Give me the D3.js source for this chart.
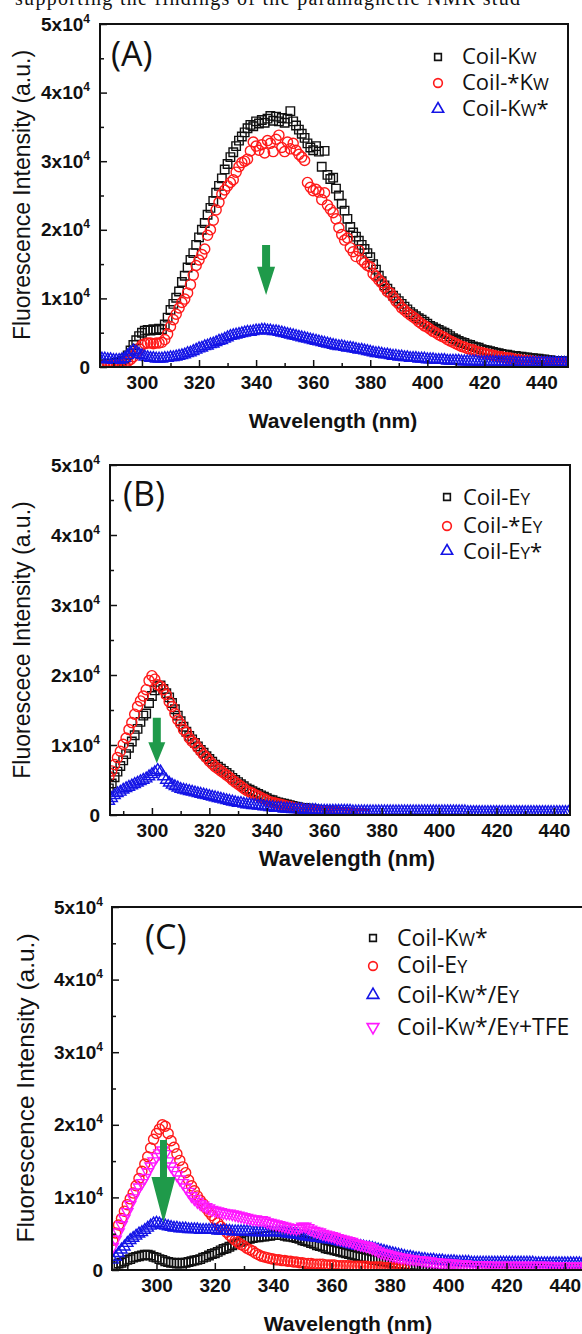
<!DOCTYPE html>
<html><head><meta charset="utf-8">
<script src="https://cdn.jsdelivr.net/npm/d3@7/dist/d3.min.js"></script>
<style>body{margin:0;background:#fff}svg{display:block}</style>
</head><body>
<svg id="chart" width="582" height="1334"></svg>
<script>
// ---------- DATA (intensity in units of 10^3, 1 nm steps starting at 285 nm) ----------
const startWL = 285;
const xMajorTicks = [300, 320, 340, 360, 380, 400, 420, 440];
const yMajorTicks = [0, 10, 20, 30, 40, 50];
const topLine = "supporting the findings of the paramagnetic NMR stud";

// Panel A
const coilKW_A = [
0.3,0.3,0.4,0.4,0.5,0.5,0.6,0.7,0.9,1.2,
1.7,2.4,3.2,3.9,4.5,5.0,5.3,5.4,5.3,5.5,
5.4,5.6,5.5,6.2,7.2,8.3,9.2,10.1,11.0,12.4,
13.3,14.5,15.6,16.6,17.8,18.9,20.0,21.0,22.2,23.2,
24.2,25.4,26.4,27.5,28.8,29.6,30.6,31.3,32.2,33.0,
33.6,34.2,34.8,35.3,35.1,35.8,35.5,36.0,35.6,36.2,
36.6,35.9,36.5,35.8,36.3,35.6,36.2,37.3,35.8,35.2,
34.6,34.0,33.4,32.6,32.0,31.6,32.2,31.4,29.2,31.5,
28.0,27.4,27.6,26.0,25.0,23.8,22.8,21.6,20.4,19.6,
19.0,18.4,17.8,17.2,16.6,16.0,15.0,14.2,13.3,12.5,
11.9,11.4,10.9,10.4,10.0,9.6,9.2,8.8,8.4,8.0,
7.7,7.4,7.1,6.9,6.6,6.3,6.0,5.8,5.6,5.4,
5.2,5.0,4.8,4.5,4.2,4.0,3.8,3.6,3.5,3.3,
3.2,3.0,2.9,2.8,2.6,2.5,2.4,2.3,2.2,2.1,
2.0,1.9,1.8,1.8,1.7,1.6,1.6,1.5,1.5,1.4,
1.4,1.3,1.3,1.2,1.2,1.1,1.1,1.0,1.0,0.9,
0.9,0.9,0.8,0.8,0.8,0.7];
const coilStarKW_A = [
0.1,0.1,0.1,0.2,0.2,0.2,0.3,0.3,0.4,0.6,
0.8,1.1,1.5,2.1,2.7,3.2,3.4,3.5,3.5,3.4,
3.5,3.5,3.6,4.0,4.8,5.9,6.9,7.7,8.6,9.4,
9.9,10.8,12.0,13.4,14.8,15.6,16.4,17.2,19.2,20.0,
21.4,22.9,24.0,25.2,25.8,26.4,26.9,27.3,28.4,29.2,
29.8,30.0,30.3,31.5,32.8,32.2,31.6,32.4,31.2,33.0,
32.6,31.4,33.2,33.8,32.0,31.4,32.8,31.8,32.6,31.6,
31.0,30.6,30.1,26.9,26.2,25.7,25.9,25.5,24.4,25.4,
23.6,23.0,22.5,21.6,20.3,19.3,18.5,18.8,17.4,16.8,
16.1,17.0,15.6,15.2,14.8,14.6,13.6,13.2,12.7,12.3,
11.6,11.0,10.8,10.2,9.6,9.2,8.6,8.3,7.9,7.6,
7.3,7.0,6.6,6.3,6.0,5.8,5.5,5.2,5.0,4.7,
4.5,4.3,4.0,3.8,3.6,3.4,3.2,3.0,2.9,2.7,
2.6,2.5,2.3,2.2,2.1,2.0,1.9,1.8,1.7,1.6,
1.5,1.5,1.4,1.3,1.3,1.2,1.1,1.1,1.0,1.0,
0.9,0.9,0.8,0.8,0.8,0.7,0.7,0.7,0.6,0.6,
0.6,0.5,0.5,0.5,0.5,0.4];
const coilKWStar_A = [
1.3,1.2,1.2,1.1,1.1,1.0,1.0,1.0,1.1,1.3,
1.7,2.1,2.4,2.2,1.9,1.7,1.5,1.4,1.3,1.3,
1.2,1.2,1.2,1.3,1.3,1.4,1.4,1.5,1.6,1.7,
1.8,2.0,2.1,2.3,2.5,2.7,2.8,3.0,3.1,3.3,
3.4,3.6,3.8,3.9,4.1,4.3,4.5,4.6,4.7,4.8,
4.9,5.0,5.1,5.1,5.2,5.3,5.3,5.4,5.4,5.3,
5.3,5.2,5.2,5.1,5.0,4.9,4.8,4.7,4.6,4.5,
4.4,4.3,4.2,4.1,4.0,3.9,3.8,3.7,3.6,3.5,
3.4,3.3,3.2,3.1,3.0,3.0,2.9,2.8,2.8,2.7,
2.6,2.5,2.5,2.4,2.3,2.2,2.1,2.0,2.0,1.9,
1.8,1.8,1.7,1.6,1.6,1.5,1.5,1.4,1.4,1.3,
1.3,1.3,1.2,1.2,1.2,1.1,1.1,1.1,1.0,1.0,
1.0,1.0,0.9,0.9,0.9,0.9,0.9,0.8,0.8,0.8,
0.8,0.8,0.8,0.7,0.7,0.7,0.7,0.7,0.7,0.7,
0.7,0.7,0.7,0.7,0.7,0.7,0.6,0.6,0.6,0.6,
0.6,0.6,0.6,0.6,0.6,0.6,0.6,0.6,0.6,0.6,
0.6,0.6,0.6,0.6,0.6,0.6];

// Panel B
const coilEY_B = [
3.8,4.5,5.4,6.2,7.0,7.8,8.7,9.6,10.5,11.4,
12.3,13.3,14.2,14.5,16.0,17.0,17.8,18.4,18.5,18.0,
17.4,16.8,16.0,15.1,14.2,13.4,12.6,11.9,11.3,10.8,
10.3,9.8,9.3,8.9,8.4,8.0,7.6,7.2,6.9,6.6,
6.3,6.0,5.7,5.3,5.0,4.7,4.4,4.1,3.8,3.6,
3.4,3.2,3.0,2.8,2.6,2.4,2.2,2.1,1.9,1.8,
1.7,1.6,1.5,1.4,1.3,1.2,1.1,1.0,1.0,0.9,
0.9,0.8,0.8,0.7,0.7,0.6,0.6,0.5,0.5,0.5,
0.4,0.4,0.4,0.3,0.3,0.3,0.3,0.3,0.2,0.2];
const coilStarEY_B = [
5.5,6.3,7.2,8.2,9.1,10.1,11.0,12.2,13.2,14.4,
15.5,16.3,17.0,17.9,19.2,19.9,19.4,18.6,18.4,17.9,
17.2,16.2,15.5,14.5,13.6,13.0,12.2,11.8,11.0,10.5,
10.2,9.6,9.1,8.6,8.2,7.7,7.3,6.9,6.6,6.3,
6.0,5.7,5.4,5.0,4.7,4.4,4.1,3.8,3.5,3.3,
3.1,2.9,2.7,2.5,2.3,2.1,1.9,1.8,1.7,1.6,
1.5,1.4,1.3,1.2,1.1,1.0,0.9,0.9,0.8,0.8,
0.7,0.7,0.6,0.6,0.5,0.5,0.5,0.4,0.4,0.4,
0.4,0.3,0.3,0.3,0.3,0.3,0.2,0.2,0.2,0.2];
const coilEYStar_B = [
2.0,2.4,2.8,3.1,3.3,3.6,3.8,4.0,4.2,4.4,
4.6,4.8,5.0,5.2,5.5,5.8,6.1,6.4,6.2,5.5,
5.0,4.6,4.3,4.1,3.9,3.7,3.6,3.5,3.4,3.3,
3.2,3.1,3.0,2.9,2.8,2.7,2.6,2.5,2.4,2.3,
2.2,2.1,2.0,1.9,1.8,1.7,1.7,1.6,1.5,1.5,
1.4,1.4,1.3,1.3,1.2,1.2,1.1,1.1,1.0,1.0,
1.0,0.9,0.9,0.9,0.8,0.8,0.8,0.8,0.7,0.7,
0.7,0.7,0.7,0.6,0.6,0.6,0.6,0.6,0.6,0.6,
0.6,0.6,0.6,0.6,0.6,0.5,0.5,0.5,0.5,0.5,
0.5,0.5,0.5,0.5,0.5,0.5,0.5,0.5,0.5,0.5,
0.5,0.5,0.5,0.5,0.5,0.5,0.5,0.5,0.5,0.5,
0.5,0.5,0.5,0.5,0.5,0.5,0.5,0.5,0.5,0.5,
0.5,0.5,0.5,0.5,0.5,0.4,0.4,0.4,0.4,0.4,
0.4,0.4,0.4,0.4,0.4,0.4,0.4,0.4,0.4,0.4,
0.4,0.4,0.4,0.4,0.4,0.4,0.4,0.4,0.4,0.4,
0.4,0.4,0.4,0.4,0.4,0.4,0.4,0.4,0.4,0.4,
0.4];

// Panel C
const coilKWStar_C = [
0.5,0.7,0.9,1.0,1.2,1.4,1.5,1.7,1.8,1.9,
2.0,2.1,2.1,2.0,1.8,1.7,1.5,1.4,1.2,1.1,
1.0,1.0,0.9,0.9,1.0,1.0,1.1,1.2,1.3,1.4,
1.5,1.7,1.8,2.0,2.2,2.3,2.5,2.7,2.9,3.0,
3.2,3.4,3.6,3.8,3.9,4.1,4.2,4.3,4.4,4.5,
4.5,4.6,4.6,4.7,4.7,4.8,4.8,4.8,4.8,4.7,
4.6,4.6,4.5,4.4,4.3,4.1,4.0,3.9,3.7,3.6,
3.4,3.3,3.2,3.0,2.9,2.8,2.7,2.6,2.5,2.4,
2.3,2.2,2.1,2.0,1.9,1.8,1.7,1.6,1.5,1.4,
1.4,1.3,1.2,1.2,1.1,1.0,1.0,0.9,0.9,0.8,
0.8,0.7,0.7,0.7,0.6,0.6,0.6,0.5,0.5,0.5,
0.5,0.4,0.4,0.4,0.4,0.4,0.3,0.3,0.3,0.3,
0.3,0.3,0.3,0.3,0.3,0.3,0.3,0.3,0.3,0.3,
0.3,0.3,0.3,0.3,0.3,0.3,0.3,0.3,0.3,0.3,
0.3,0.3,0.3,0.3,0.3,0.2,0.2,0.2,0.2,0.2,
0.2,0.2,0.2,0.2,0.2,0.2,0.2,0.2,0.2,0.2,
0.2,0.2,0.2,0.2,0.2,0.2];
const coilEY_C = [
4.1,5.1,6.2,7.1,8.1,9.0,9.8,10.6,11.6,12.6,
13.6,14.6,15.6,16.8,18.0,18.8,19.4,20.0,19.8,18.8,
17.8,16.9,16.0,15.1,14.2,13.4,12.4,11.6,10.9,10.2,
9.6,9.1,8.5,8.0,7.5,7.0,6.5,6.0,5.6,5.2,
4.8,4.4,4.1,3.8,3.5,3.3,3.0,2.8,2.6,2.3,
2.1,1.9,1.8,1.7,1.6,1.5,1.4,1.4,1.3,1.3,
1.2,1.2,1.1,1.1,1.0,1.0,0.9,0.9,0.9,0.8,
0.8,0.8,0.8,0.7,0.7,0.7,0.7,0.6,0.6,0.6,
0.6,0.6,0.5,0.5,0.5,0.5,0.5,0.5,0.4,0.4,
0.4,0.4,0.4,0.3,0.3,0.3,0.3,0.3,0.3,0.2,
0.2];
const coilKWStarEY_C = [
1.4,1.8,2.3,2.8,3.2,3.7,4.1,4.4,4.7,5.0,
5.2,5.5,5.8,6.1,6.4,6.5,6.4,6.2,6.1,6.0,
5.9,5.8,5.8,5.7,5.7,5.7,5.6,5.6,5.6,5.6,
5.5,5.5,5.5,5.5,5.5,5.5,5.4,5.4,5.4,5.4,
5.4,5.3,5.3,5.3,5.3,5.3,5.3,5.3,5.2,5.2,
5.2,5.2,5.2,5.2,5.2,5.2,5.2,5.2,5.1,5.1,
5.0,5.0,4.9,4.9,4.8,4.7,4.6,4.6,4.5,4.5,
4.4,4.4,4.3,4.3,4.2,4.2,4.1,4.0,3.9,3.8,
3.7,3.6,3.5,3.4,3.3,3.3,3.2,3.1,3.1,3.0,
2.9,2.8,2.7,2.6,2.5,2.4,2.3,2.2,2.1,2.0,
1.9,1.8,1.8,1.7,1.6,1.6,1.5,1.5,1.4,1.4,
1.4,1.3,1.3,1.3,1.2,1.2,1.2,1.2,1.1,1.1,
1.1,1.1,1.1,1.0,1.0,1.0,1.0,1.0,1.0,1.0,
1.0,1.0,1.0,1.0,1.0,1.0,1.0,1.0,1.0,1.0,
1.0,1.0,1.0,1.0,1.0,0.9,0.9,0.9,0.9,0.9,
0.9,0.9,0.9,0.9,0.9,0.9,0.9,0.9,0.9,0.9,
0.9,0.9,0.9,0.9,0.9,0.9];
const coilKWStarEYTFE_C = [
3.2,4.2,5.2,6.2,7.1,8.0,9.0,9.9,10.7,11.4,
12.0,12.7,13.5,14.3,15.0,15.6,16.1,16.5,16.0,15.0,
14.3,13.7,13.1,12.5,12.0,11.4,10.8,10.2,9.8,9.4,
9.1,8.9,8.7,8.5,8.3,8.2,8.1,8.0,7.9,7.8,
7.8,7.7,7.6,7.5,7.4,7.3,7.2,7.1,7.0,7.0,
6.9,6.9,6.8,6.6,6.5,6.4,6.3,6.2,6.1,6.0,
5.9,5.8,5.8,5.7,5.8,6.0,6.0,5.8,5.6,5.4,
5.3,5.2,5.0,4.9,4.8,4.7,4.6,4.4,4.3,4.2,
4.1,4.0,3.9,3.7,3.6,3.5,3.4,3.3,3.2,3.0,
2.8,2.6,2.4,2.3,2.2,2.1,2.0,1.9,1.8,1.7,
1.7,1.6,1.5,1.5,1.4,1.4,1.3,1.3,1.2,1.2,
1.1,1.1,1.0,1.0,1.0,0.9,0.9,0.9,0.8,0.8,
0.8,0.8,0.7,0.7,0.7,0.7,0.7,0.7,0.7,0.6,
0.6,0.6,0.6,0.6,0.6,0.6,0.6,0.6,0.6,0.6,
0.6,0.6,0.6,0.6,0.6,0.6,0.6,0.6,0.6,0.6,
0.5,0.5,0.5,0.5,0.5,0.5,0.5,0.5,0.5,0.5,
0.5,0.5,0.5,0.5,0.5,0.5];

// Arrow annotations (wavelength, top / head-start / tip intensity in 10^3)
const arrowA = {wl: 343.5, top: 17.8, head: 14.6, tip: 10.5};
const arrowB = {wl: 301.7, top: 13.9, head: 10.4, tip: 7.4};
const arrowC = {wl: 302.4, top: 17.9, head: 12.8, tip: 6.5};

// ---------- STYLE / LAYOUT ----------
const SANS = "'Liberation Sans', Arial, sans-serif";
const LEG = "'Open Sans', 'Liberation Sans', sans-serif";
const BLACK = "#111", RED = "#ff1a1a", BLUE = "#1414e6", MAG = "#ff19ff", GREEN = "#1f9a4a";

const panels = [
  {tag: "(A)", tagPos: [111, 66], tagSize: 34,
   box: {l: 100, r: 568, t: 24, b: 367}, xDomain: [285.3, 449.3],
   yTitle: "Fluorescence Intensity (a.u.)", yTitlePos: [30, 195], yTitleSize: 23,
   xTitlePos: [333, 428], xTitleSize: 21, yPad: 10,
   series: [
     {label: [["Coil-K"], ["W", 1]], values: coilKW_A, shape: "square", color: BLACK},
     {label: [["Coil-*K"], ["W", 1]], values: coilStarKW_A, shape: "circle", color: RED},
     {label: [["Coil-K"], ["W", 1], ["*"]], values: coilKWStar_A, shape: "triangle", color: BLUE}
   ],
   legend: {mx: 438, my: [57, 83, 109], tx: 462, ty: [64, 90, 116], size: 22, msize: [45, 60, 55]},
   arrow: arrowA, arrowW: [8, 18]},
  {tag: "(B)", tagPos: [123, 506], tagSize: 34,
   box: {l: 110, r: 570, t: 465, b: 815}, xDomain: [285.4, 445.6],
   yTitle: "Fluorescece Intensity (a.u.)", yTitlePos: [30, 640], yTitleSize: 23,
   xTitlePos: [347, 866], xTitleSize: 22, yPad: 10,
   series: [
     {label: [["Coil-E"], ["Y", 1]], values: coilEY_B, shape: "square", color: BLACK},
     {label: [["Coil-*E"], ["Y", 1]], values: coilStarEY_B, shape: "circle", color: RED},
     {label: [["Coil-E"], ["Y", 1], ["*"]], values: coilEYStar_B, shape: "triangle", color: BLUE}
   ],
   legend: {mx: 447, my: [497, 526, 551], tx: 463, ty: [505, 533, 559], size: 22, msize: [45, 60, 55]},
   arrow: arrowB, arrowW: [8, 17]},
  {tag: "(C)", tagPos: [145, 949], tagSize: 34,
   box: {l: 112, r: 594, t: 907, b: 1270}, xDomain: [284.75, 450],
   yTitle: "Fluorescence Intensity (a.u.)", yTitlePos: [34, 1088], yTitleSize: 24.5,
   xTitlePos: [348, 1331], xTitleSize: 21, yPad: 9,
   series: [
     {label: [["Coil-K"], ["W", 1], ["*"]], values: coilKWStar_C, shape: "square", color: BLACK},
     {label: [["Coil-E"], ["Y", 1]], values: coilEY_C, shape: "circle", color: RED},
     {label: [["Coil-K"], ["W", 1], ["*/E"], ["Y", 1]], values: coilKWStarEY_C, shape: "triangle", color: BLUE},
     {label: [["Coil-K"], ["W", 1], ["*/E"], ["Y", 1], ["+TFE"]], values: coilKWStarEYTFE_C, shape: "triangleDown", color: MAG}
   ],
   legend: {mx: 373, my: [938, 966, 995, 1027], tx: 397, ty: [946, 973, 1003, 1035], size: 23, msize: [45, 60, 60, 60]},
   arrow: arrowC, arrowW: [7, 24]}
];

const markerSize = {square: 72, circle: 80, triangle: 55, triangleDown: 55};

function symbolPath(shape, size) {
  const type = shape === "square" ? d3.symbolSquare : shape === "circle" ? d3.symbolCircle : d3.symbolTriangle;
  return d3.symbol().type(type).size(size)();
}

const svg = d3.select("#chart");
svg.append("rect").attr("width", 582).attr("height", 1334).attr("fill", "#fff");

// top running text (cut-off line of the page above the figure)
svg.append("text").attr("x", 15).attr("y", 5)
  .attr("font-family", "'Liberation Serif', 'Times New Roman', serif")
  .attr("font-size", 20).attr("textLength", 505).attr("lengthAdjust", "spacing")
  .attr("fill", "#111").text(topLine);

panels.forEach((p, pi) => {
  const x = d3.scaleLinear().domain(p.xDomain).range([p.box.l, p.box.r]);
  const y = d3.scaleLinear().domain([0, 50]).range([p.box.b, p.box.t]);
  const g = svg.append("g");

  const clipId = "clip" + pi;
  svg.append("clipPath").attr("id", clipId).append("rect")
    .attr("x", p.box.l).attr("y", p.box.t)
    .attr("width", p.box.r - p.box.l).attr("height", p.box.b - p.box.t);

  // series markers
  const plot = g.append("g").attr("clip-path", `url(#${clipId})`);
  p.series.forEach(s => {
    const d = symbolPath(s.shape, markerSize[s.shape]);
    plot.append("g").selectAll("path")
      .data(s.values.map((v, i) => [startWL + i, v]))
      .join("path")
      .attr("d", d)
      .attr("transform", v => `translate(${x(v[0])},${y(v[1])})` + (s.shape === "triangleDown" ? " rotate(180)" : ""))
      .attr("fill", "none").attr("stroke", s.color).attr("stroke-width", 1.4);
  });

  // arrow
  const a = p.arrow, cx = x(a.wl), sw = p.arrowW[0] / 2, hw = p.arrowW[1] / 2;
  const yt = y(a.top), yh = y(a.head), yp = y(a.tip);
  g.append("path")
    .attr("d", `M${cx - sw},${yt}L${cx + sw},${yt}L${cx + sw},${yh}L${cx + hw},${yh}L${cx},${yp}L${cx - hw},${yh}L${cx - sw},${yh}Z`)
    .attr("fill", GREEN);

  // axes (major with labels, minor without)
  const xMinor = d3.range(290, 451, 20).filter(v => v > p.xDomain[0] && v < p.xDomain[1]);
  const yMinor = [5, 15, 25, 35, 45];
  const gx = g.append("g").attr("transform", `translate(0,${p.box.b})`)
    .call(d3.axisBottom(x).tickValues(xMajorTicks).tickSize(-7).tickSizeOuter(0).tickPadding(9).tickFormat(d3.format("d")));
  const gxm = g.append("g").attr("transform", `translate(0,${p.box.b})`)
    .call(d3.axisBottom(x).tickValues(xMinor).tickSize(-4).tickSizeOuter(0).tickFormat(""));
  const gy = g.append("g").attr("transform", `translate(${p.box.l},0)`)
    .call(d3.axisLeft(y).tickValues(yMajorTicks).tickSize(-7).tickSizeOuter(0).tickPadding(p.yPad));
  const gym = g.append("g").attr("transform", `translate(${p.box.l},0)`)
    .call(d3.axisLeft(y).tickValues(yMinor).tickSize(-4).tickSizeOuter(0).tickFormat(""));
  [gxm, gym].forEach(ax => ax.selectAll(".tick text").remove());
  g.selectAll(".domain").remove();
  g.selectAll(".tick line").attr("stroke", BLACK).attr("stroke-width", 1.5);
  [gx, gy].forEach(ax => ax.attr("font-family", SANS).attr("font-size", 19).attr("font-weight", "bold"));
  gx.selectAll(".tick text").attr("fill", BLACK);
  gy.selectAll(".tick text").attr("fill", BLACK).each(function(d) {
    const t = d3.select(this);
    t.text(null);
    if (d === 0) { t.text("0"); return; }
    t.append("tspan").text(`${d / 10}x10`);
    t.append("tspan").attr("dy", -8).attr("font-size", 12).text("4");
  });

  // frame
  g.append("rect").attr("x", p.box.l).attr("y", p.box.t)
    .attr("width", p.box.r - p.box.l).attr("height", p.box.b - p.box.t)
    .attr("fill", "none").attr("stroke", BLACK).attr("stroke-width", 2);

  // titles
  g.append("text").attr("transform", `translate(${p.yTitlePos[0]},${p.yTitlePos[1]}) rotate(-90)`)
    .attr("text-anchor", "middle").attr("font-family", SANS).attr("font-size", p.yTitleSize)
    .attr("fill", BLACK).text(p.yTitle);
  g.append("text").attr("x", p.xTitlePos[0]).attr("y", p.xTitlePos[1])
    .attr("text-anchor", "middle").attr("font-family", SANS).attr("font-weight", "bold")
    .attr("font-size", p.xTitleSize).attr("fill", BLACK).text("Wavelength (nm)");
  g.append("text").attr("x", p.tagPos[0]).attr("y", p.tagPos[1])
    .attr("font-family", LEG).attr("font-size", p.tagSize).attr("fill", BLACK).text(p.tag);

  // legend
  const L = p.legend;
  p.series.forEach((s, i) => {
    g.append("path").attr("d", symbolPath(s.shape, L.msize[i]))
      .attr("transform", `translate(${L.mx},${L.my[i]})` + (s.shape === "triangleDown" ? " rotate(180)" : ""))
      .attr("fill", "none").attr("stroke", s.color).attr("stroke-width", 1.6);
    const t = g.append("text").attr("x", L.tx).attr("y", L.ty[i])
      .attr("font-family", LEG).attr("font-size", L.size).attr("fill", BLACK);
    s.label.forEach(seg => {
      t.append("tspan").attr("font-size", seg[1] ? L.size * 0.78 : L.size).text(seg[0]);
    });
  });
});
</script>
</body></html>
